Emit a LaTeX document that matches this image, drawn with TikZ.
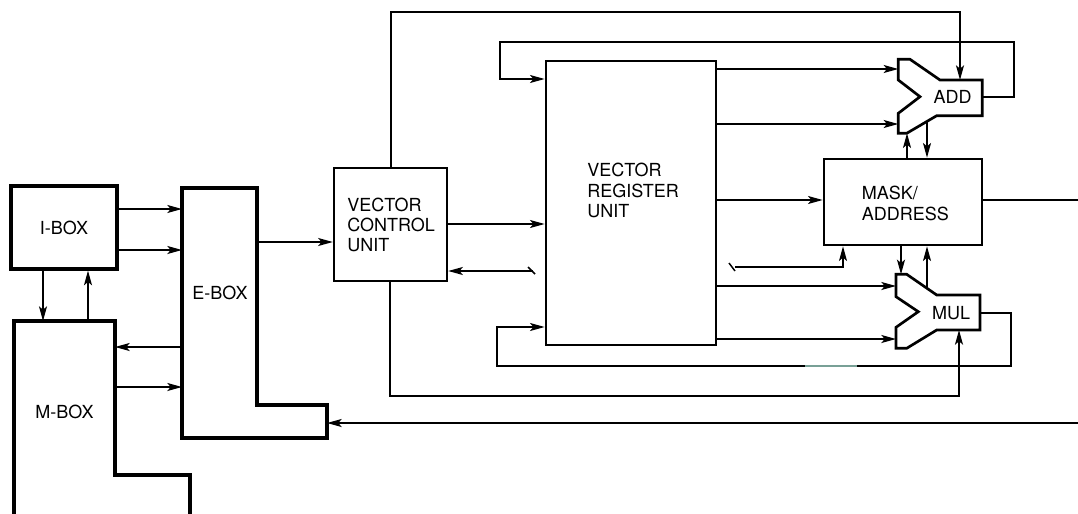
\documentclass[tikz,border=0pt]{standalone}
\usepackage{fontspec}
\setmainfont{TeX Gyre Heros}
\usetikzlibrary{arrows.meta}
\begin{document}
\begin{tikzpicture}[x=0.75pt,y=-0.75pt,
  conn/.style={line width=1.1pt},
  arr/.style={conn,-{Stealth[length=11pt,width=6pt,inset=2.5pt]}},
  thickbox/.style={draw,line width=2.4pt,inner sep=0pt,line join=miter},
  box/.style={draw,line width=2pt,inner sep=0pt,line join=miter},
  lbl/.style={font=\fontsize{13.5}{15.3}\selectfont,inner sep=0pt,align=left}]
\useasboundingbox (0,0) rectangle (1078,514);

% ---- boxes ----
\node[thickbox,minimum width=79.5pt,minimum height=62.25pt,lbl] (ibox) at (64,227.5) {I-BOX};
\node[box,line width=1.8pt,minimum width=84.75pt,minimum height=84.75pt] (vcu) at (390.5,224.5) {};
\node[box,minimum width=127.5pt,minimum height=213pt] (vru) at (631,203) {};
\node[box,minimum width=118.5pt,minimum height=64.5pt] (mask) at (903,202) {};

% E-BOX (L shape)
\coordinate (e1) at (182,188);
\coordinate (e2) at (257,188);
\coordinate (e3) at (327,405);
\draw[line width=2.4pt,line join=miter] (e1) -- (e2) -- (257,405) -- (e3) -- (327,438) -- (182,438) -- cycle;
% M-BOX (open at bottom)
\coordinate (m1) at (14,321);
\coordinate (m2) at (115,321);
\draw[line width=2.4pt,line join=miter] (14,514) -- (m1) -- (m2) -- (115,475) -- (190,475) -- (190,514);

% ADD
\coordinate (addl) at (898.3,59.3);
\coordinate (addr) at (982.3,80);
\draw[line width=2pt,line join=miter] (addl) -- (910,59.3) -- (940,80) -- (addr) -- (982.3,115.7)
  -- (936.7,115.7) -- (906.7,133.3) -- (898.3,133.3) -- (898.3,113.3) -- (920,96.7) -- (898.3,80) -- cycle;
% MUL
\coordinate (mull) at (896,274.3);
\coordinate (mulr) at (980,295);
\draw[line width=2pt,line join=miter] (mull) -- (906.7,274.3) -- (936.7,295) -- (mulr) -- (980,330)
  -- (936.7,330) -- (906.7,348.3) -- (896,348.3) -- (896,327.3) -- (918.3,311.7) -- (896,296.7) -- cycle;

% ---- labels ----
\node[lbl] (eboxlbl) at (220,292.5) {E-BOX};
\node[lbl] (mboxlbl) at (64.5,412) {M-BOX};
\node[lbl,anchor=west] (vculbl) at (347,225) {VECTOR\\CONTROL\\UNIT};
\node[lbl,anchor=west] (vrulbl) at (587,190.5) {VECTOR\\REGISTER\\UNIT};
\node[lbl,anchor=west] (masklbl) at (861.5,203.5) {MASK/\\ADDRESS};
\node[lbl] (addlbl) at (952.5,97) {ADD};
\node[lbl] (mullbl) at (951,313) {MUL};

% ---- connectors ----
\draw[arr] (ibox.east |- 0,209) -- (e1 |- 0,209);
\draw[arr] (ibox.east |- 0,250) -- (e1 |- 0,250);
\draw[arr] (ibox.south -| 43,0) -- (m1 -| 43,0);
\draw[arr] (m1 -| 88,0) -- (ibox.south -| 88,0);
\draw[arr] (e1 |- 0,347) -- (m2 |- 0,347);
\draw[arr] (m2 |- 0,387) -- (e1 |- 0,387);
\draw[arr] (e2 |- 0,242) -- (vcu.west |- 0,242);
\draw[arr] (vcu.east |- 0,224) -- (vru.west |- 0,224);
\draw[arr] (533,271) -- (vcu.east |- 0,271);
\draw[conn] (528,267) -- (535,274);

% VCU -> ADD over the top
\draw[arr] (vcu.north -| 391,0) -- (391,12) -- (960,12) -- (960,80);
% ADD feedback to VRU
\draw[arr] (addr |- 0,97) -- (1014,97) -- (1014,42) -- (500,42) -- (500,79) -- (vru.west |- 0,79);
% VRU -> ADD
\draw[arr] (vru.east |- 0,69) -- (addl |- 0,69);
\draw[arr] (vru.east |- 0,124) -- (addl |- 0,124);
% VRU -> MASK
\draw[arr] (vru.east |- 0,200) -- (mask.west |- 0,200);
\draw[conn] (mask.east |- 0,200) -- (1078,200);
% MASK <-> ADD
\draw[arr] (mask.north -| 907,0) -- (907,133.3);
\draw[arr] (927,121.4) -- (mask.north -| 927,0);
% MASK <-> MUL
\draw[arr] (mask.south -| 901,0) -- (901,274.3);
\draw[arr] (927,288.3) -- (mask.south -| 927,0);
% line into MASK bottom
\draw[conn] (729,263) -- (735,271);
\draw[arr] (735,267) -- (843,267) -- (mask.south -| 843,0);
% VRU -> MUL
\draw[arr] (vru.east |- 0,286) -- (mull |- 0,286);
\draw[arr] (vru.east |- 0,339) -- (mull |- 0,339);
% MUL feedback to VRU
\draw[arr] (mulr |- 0,313) -- (1011,313) -- (1011,366) -- (497,366) -- (497,327) -- (vru.west |- 0,327);
\draw[line width=1.6pt,color={rgb,255:red,120;green,160;blue,150}] (805,366) -- (857,366);
% VCU -> MUL bottom
\draw[arr] (vcu.south -| 390,0) -- (390,396) -- (959,396) -- (959,330);
% right -> E-BOX
\draw[arr] (1078,423) -- (e3 |- 0,423);
\end{tikzpicture}
\end{document}
